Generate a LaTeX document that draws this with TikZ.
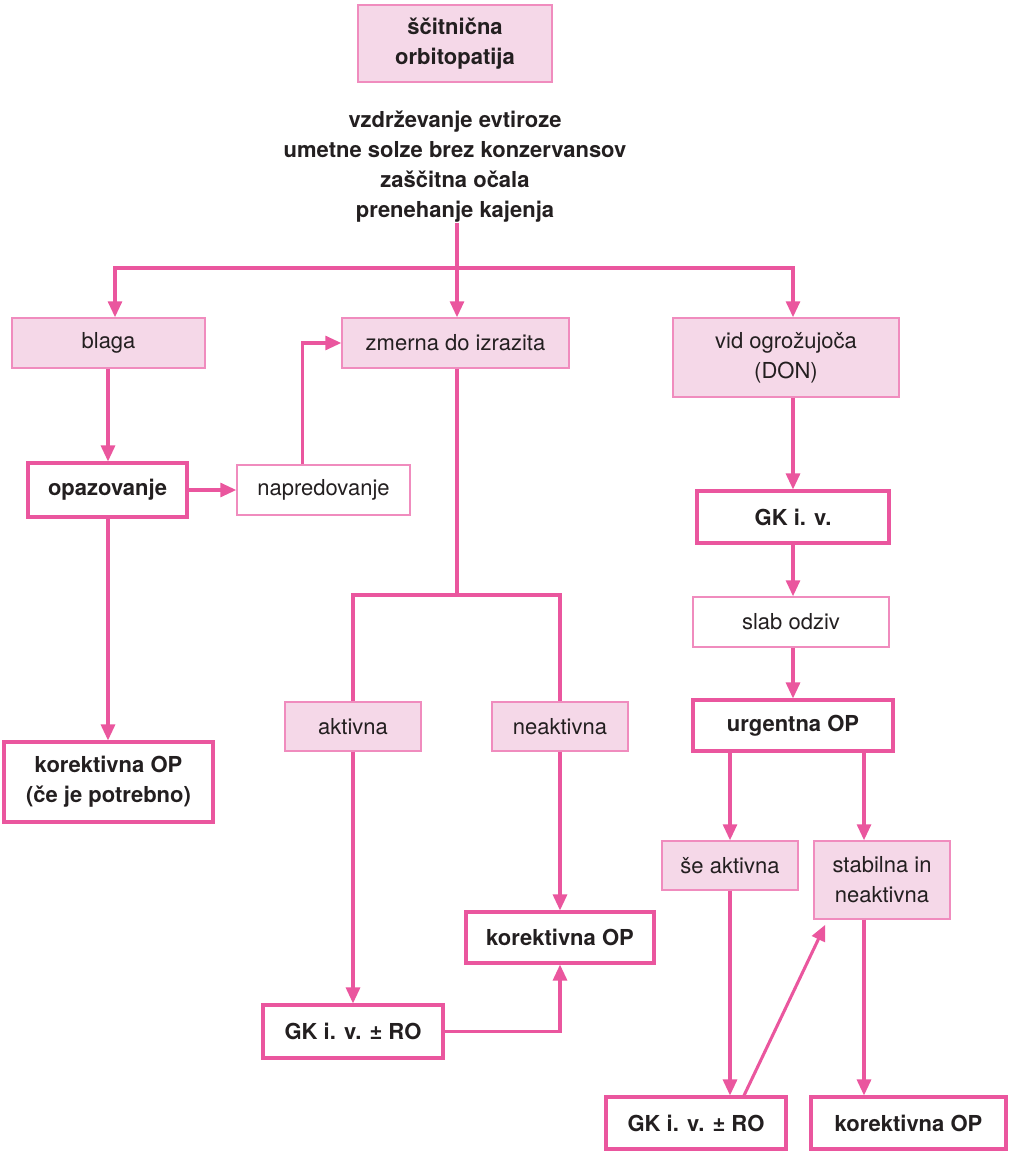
\documentclass[tikz,border=0pt]{standalone}
\usepackage{fontspec}
\setmainfont{TeX Gyre Heros}
\usetikzlibrary{arrows.meta,calc}
\definecolor{pk}{RGB}{234,86,158}
\definecolor{pkfill}{RGB}{245,216,232}
\definecolor{pkthin}{RGB}{240,140,190}
\definecolor{txtc}{RGB}{35,31,32}
\newcommand\bxnode[7]{%
  \node[#1, minimum width={(#5-#3)*0.75pt}, minimum height={(#6-#4)*0.75pt}]
    (#2) at ({(#3+#5)/2},{(#4+#6)/2}) {#7};}
\begin{document}
\begin{tikzpicture}[x=0.75pt,y=-0.75pt,
 every node/.style={font=\fontsize{16.5}{22.5}\selectfont, text=txtc, align=center, inner sep=0pt},
 pbox/.style={draw=pkthin, line width=1.1pt, fill=pkfill},
 wbox/.style={draw=pkthin, line width=1.1pt, fill=white},
 bbox/.style={draw=pk, line width=2.3pt, fill=white, font=\fontsize{16.5}{22.5}\selectfont\bfseries},
 conn/.style={draw=pk, line width=2.3pt},
 arr/.style={draw=pk, line width=2.3pt, -{Triangle[length=12pt,width=10.5pt]}}]
\useasboundingbox (0,0) rectangle (1011,1151);

\bxnode{pbox, font=\fontsize{16.5}{22.5}\selectfont\bfseries, text depth=4pt}{top}{358}{5}{552}{82}{ščitnična\\orbitopatija}
\node[font=\fontsize{16.5}{22.5}\selectfont\bfseries] (meas) at (455,167) {vzdrževanje evtiroze\\umetne solze brez konzervansov\\zaščitna očala\\prenehanje kajenja};

\bxnode{pbox}{blaga}{12}{318}{205}{368}{blaga}
\bxnode{pbox}{zmerna}{342}{318}{569}{368}{zmerna do izrazita}
\bxnode{pbox, text depth=3pt}{vid}{673}{318}{899}{397}{vid ogrožujoča\\(DON)}

\bxnode{bbox}{opaz}{28}{463}{187}{517}{opazovanje}
\bxnode{wbox}{napred}{237}{465}{410}{515}{napredovanje}
\bxnode{bbox}{kor1}{4}{742}{213}{822}{korektivna OP\\(če je potrebno)}

\bxnode{pbox}{akt}{285}{702}{421}{751}{aktivna}
\bxnode{pbox}{neakt}{492}{702}{628}{751}{neaktivna}
\bxnode{bbox}{kor2}{466}{912}{654}{963}{korektivna OP}
\bxnode{bbox}{gkro1}{263}{1005}{443}{1058}{GK i. v. ± RO}

\bxnode{bbox}{gk}{697}{491}{889}{543}{GK i. v.}
\bxnode{wbox}{slab}{693}{597}{889}{647}{slab odziv}
\bxnode{bbox}{urg}{693}{700}{893}{751}{urgentna OP}
\bxnode{pbox}{sea}{662}{841}{798}{890}{še aktivna}
\bxnode{pbox}{stab}{814}{841}{950}{919}{stabilna in\\neaktivna}
\bxnode{bbox}{gkro2}{606}{1097}{786}{1149}{GK i. v. ± RO}
\bxnode{bbox}{kor3}{811}{1097}{1006}{1149}{korektivna OP}

\coordinate (s0) at (457,268);
\coordinate (bl) at (115,268);
\coordinate (vr) at (793,268);
\coordinate (zs) at (457,595);
\coordinate (lx) at (108,0);
\coordinate (rx) at (864,0);

\draw[conn] (meas.south -| s0) -- (s0);
\draw[arr] (s0) -| (bl |- blaga.north);
\draw[arr] (s0) -| (vr |- vid.north);
\draw[arr] (s0) -- (s0 |- zmerna.north);

\draw[arr] (blaga.south -| lx) -- (opaz.north -| lx);
\draw[arr] (opaz.east) -- (napred.west);
\draw[arr] ($(napred.north)+(-21,0)$) |- (zmerna.west);
\draw[arr] (opaz.south -| lx) -- (kor1.north -| lx);

\draw[conn] (zmerna.south -| zs) -- (zs);
\draw[conn] (akt.north) |- (zs) -| (neakt.north);
\draw[arr] (akt.south) -- (akt.south |- gkro1.north);
\draw[arr] (neakt.south) -- (kor2.north);
\draw[arr] (gkro1.east) -| (kor2.south);

\draw[arr] (vid.south -| vr) -- (gk.north -| vr);
\draw[arr] (gk.south -| vr) -- (slab.north -| vr);
\draw[arr] (slab.south -| vr) -- (urg.north -| vr);
\draw[arr] (urg.south -| sea.north) -- (sea.north);
\draw[arr] (urg.south -| rx) -- (stab.north -| rx);
\draw[arr] (sea.south) -- (sea.south |- gkro2.north);
\draw[arr] ($(gkro2.north)+(48,0)$) -- ($(stab.south west)+(12,5)$);
\draw[arr] (stab.south -| rx) -- (kor3.north -| rx);
\end{tikzpicture}
\end{document}
